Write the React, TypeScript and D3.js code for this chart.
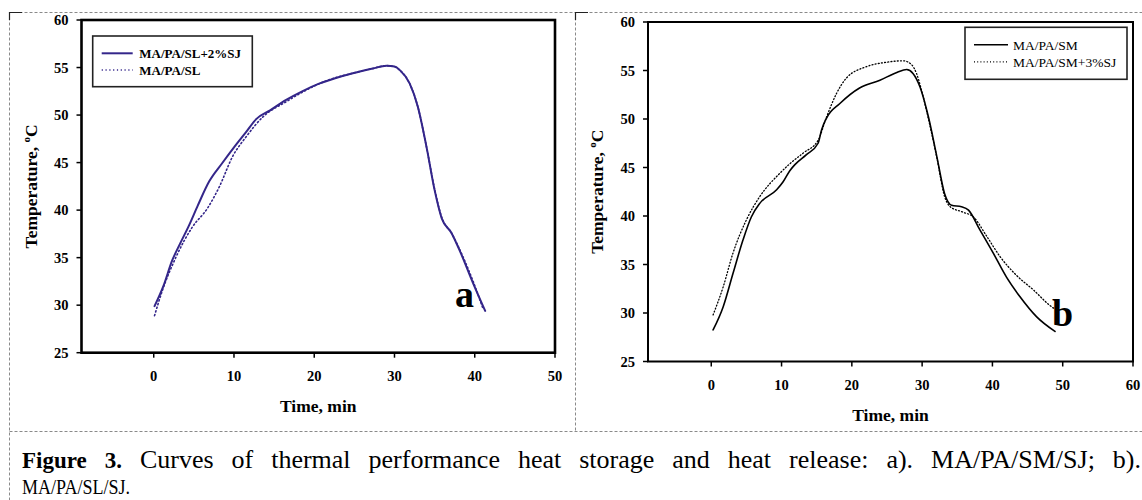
import * as d3 from 'd3';

// ---- data: [time (min), temperature (°C)] ----
const slWithSJ: [number, number][] = [
  [0.1, 29.9], [1.2, 32.0], [2.3, 34.7], [3.3, 36.5], [4.4, 38.4], [5.5, 40.5],
  [6.9, 43.0], [8.5, 44.9], [10.0, 46.6], [11.5, 48.2], [12.8, 49.6], [14.5, 50.5],
  [16.5, 51.6], [18.5, 52.5], [20.6, 53.3], [22.7, 53.9], [24.8, 54.4], [27.3, 54.9],
  [29.0, 55.2], [30.0, 55.1], [30.7, 54.7], [31.9, 53.3], [32.9, 50.9], [34.0, 46.6],
  [35.0, 42.1], [35.9, 39.1], [37.1, 37.6], [38.1, 35.8], [39.8, 32.3], [41.3, 29.4],
];
const slBase: [number, number][] = [
  [0.1, 28.9], [1.1, 31.6], [2.8, 35.1], [4.8, 38.2], [6.7, 40.2], [8.2, 42.5],
  [9.8, 45.6], [11.5, 47.7], [13.6, 49.8], [16.5, 51.4], [19.4, 52.8], [21.5, 53.6],
  [24.8, 54.4], [27.3, 54.9], [29.0, 55.2], [30.0, 55.1], [30.7, 54.7], [31.9, 53.3],
  [32.9, 50.9], [34.0, 46.6], [35.0, 42.2], [35.9, 39.2], [37.1, 37.6], [38.1, 35.9],
  [39.8, 32.5], [41.0, 29.7],
];
const smBase: [number, number][] = [
  [0.26, 28.25], [1.7, 30.65], [3.1, 34.1], [4.5, 37.5], [5.7, 39.9], [6.9, 41.3],
  [9.3, 42.7], [10.2, 43.5], [11.2, 44.7], [11.9, 45.3], [13.5, 46.3], [15.2, 47.5],
  [15.7, 48.9], [16.4, 50.1], [18.3, 51.6], [21.1, 53.2], [24.0, 54.0], [26.4, 54.8],
  [27.8, 55.1], [28.7, 54.7], [29.7, 53.3], [30.9, 50.2], [32.1, 46.1], [33.2, 42.3],
  [34.2, 41.1], [35.6, 40.95], [36.6, 40.6], [38.2, 38.6], [40.1, 36.2], [42.0, 33.7],
  [43.9, 31.7], [46.3, 29.6], [48.9, 28.1],
];
const smWithSJ: [number, number][] = [
  [0.26, 29.8], [1.7, 32.7], [3.1, 36.2], [5.0, 39.6], [6.9, 42.0], [9.75, 44.4],
  [11.2, 45.4], [13.1, 46.5], [15.2, 47.8], [16.4, 50.2], [17.8, 52.6], [19.2, 54.2],
  [22.1, 55.4], [24.9, 55.85], [27.3, 56.0], [28.5, 55.6], [29.2, 54.7], [29.9, 53.0],
  [30.9, 50.0], [32.1, 46.0], [33.2, 42.0], [34.0, 40.95], [35.8, 40.4], [37.3, 39.9],
  [39.2, 37.9], [41.1, 35.8], [43.4, 33.9], [45.8, 32.4], [48.4, 30.65], [48.7, 30.5],
];

const yTicks = [25, 30, 35, 40, 45, 50, 55, 60];
const xTicksA = [0, 10, 20, 30, 40, 50];
const xTicksB = [0, 10, 20, 30, 40, 50, 60];
const legendA = ['MA/PA/SL+2%SJ', 'MA/PA/SL'];
const legendB = ['MA/PA/SM', 'MA/PA/SM+3%SJ'];
const captionWords = 'Curves of thermal performance heat storage and heat release: a). MA/PA/SM/SJ; b).'.split(' ');

const SERIF = "'Liberation Serif', 'Times New Roman', serif";
const INDIGO = '#34268a';

const measure = (() => {
  const ctx = typeof document !== 'undefined' ? document.createElement('canvas').getContext('2d') : null;
  return (s: string, font: string) => {
    if (!ctx) return s.length * 9;
    ctx.font = font;
    return ctx.measureText(s).width;
  };
})();

function Panel(props: any) {
  const { x0, x1, y0, y1, xMax, xTicks, frame, series, legend, letter } = props;
  const x = d3.scaleLinear().domain([-9, xMax]).range([x0, x1]);
  const y = d3.scaleLinear().domain([25, 60]).range([y1, y0]);
  const line = d3.line<[number, number]>()
    .x(d => x(d[0]))
    .y(d => y(d[1]))
    .curve(d3.curveMonotoneX);

  return (
    <g>
      {series.map((s: any, i: number) => (
        <path key={i} d={line(s.data) || ''} fill="none" stroke={s.color}
          strokeWidth={s.width} strokeDasharray={s.dash} strokeLinecap="round" />
      ))}
      <rect x={x0} y={y0} width={x1 - x0} height={y1 - y0} fill="none" stroke="#000" strokeWidth={frame} />

      {yTicks.map(t => (
        <g key={t}>
          <line x1={x0 - 5} x2={x0} y1={y(t)} y2={y(t)} stroke="#000" strokeWidth={1.5} />
          <text x={x0 - 13} y={y(t)} dy="0.35em" textAnchor="end" fontSize={14.5} fontWeight="bold">{t}</text>
        </g>
      ))}
      {xTicks.map((t: number) => (
        <g key={t}>
          <line x1={x(t)} x2={x(t)} y1={y1} y2={y1 + 5} stroke="#000" strokeWidth={1.5} />
          <text x={x(t)} y={y1 + 28.5} textAnchor="middle" fontSize={14.5} fontWeight="bold">{t}</text>
        </g>
      ))}

      <text x={(x0 + x1) / 2} y={y1 + 59} textAnchor="middle" fontSize={17.5} fontWeight="bold">Time, min</text>
      <text transform={`translate(${props.yTitleX},${(y0 + y1) / 2}) rotate(-90)`} textAnchor="middle"
        fontSize={17.5} fontWeight="bold">
        Temperature, <tspan fontSize={11} dy={-7}>o</tspan><tspan dy={7}>C</tspan>
      </text>

      <rect x={legend.x} y={legend.y} width={legend.w} height={legend.h} fill="#fff" stroke="#222" strokeWidth={1.6} />
      {legend.labels.map((lab: string, i: number) => {
        const ly = legend.y + legend.rowY[i];
        const s = series[i];
        return (
          <g key={lab}>
            <line x1={legend.x + legend.lineX[0]} x2={legend.x + legend.lineX[1]} y1={ly} y2={ly}
              stroke={s.color} strokeWidth={s.width} strokeDasharray={s.dash} />
            <text x={legend.x + legend.textX} y={ly} dy="0.35em" fontSize={legend.fontSize}
              fontWeight={legend.bold ? 'bold' : 'normal'}>{lab}</text>
          </g>
        );
      })}

      <text x={letter.x} y={letter.y} fontSize={38} fontWeight="bold">{letter.t}</text>
    </g>
  );
}

function Caption() {
  const left = 22;
  const right = 1141;
  const boldFont = "bold 23px 'Liberation Serif'";
  const regFont = "26px 'Liberation Serif'";
  const words = [{ t: 'Figure', bold: true }, { t: '3.', bold: true }, ...captionWords.map(t => ({ t, bold: false }))];
  const widths = words.map(w => measure(w.t, w.bold ? boldFont : regFont));
  const total = widths.reduce((a, b) => a + b, 0);
  const gap = (right - left - total) / (words.length - 1);
  let cx = left;
  const placed = words.map((w, i) => {
    const p = { ...w, x: cx };
    cx += widths[i] + gap;
    return p;
  });
  return (
    <g>
      {placed.map((w, i) => (
        <text key={i} x={w.x} y={468} fontSize={w.bold ? 23 : 26} fontWeight={w.bold ? 'bold' : 'normal'}>{w.t}</text>
      ))}
      <text x={left} y={494} fontSize={22} textLength={108} lengthAdjust="spacingAndGlyphs">MA/PA/SL/SJ.</text>
    </g>
  );
}

export default function App() {
  const dash = { stroke: '#8a8a8a', strokeWidth: 1, strokeDasharray: '3,2' };
  return (
    <div style={{ position: 'absolute', left: 0, top: 0, width: 1142, height: 500, background: '#fff' }}>
      <svg width={1142} height={500} fontFamily={SERIF} style={{ display: 'block' }}>
        <rect width={1142} height={500} fill="#fff" />
        {/* panel borders */}
        <line x1={9.5} x2={1142} y1={12.5} y2={12.5} {...dash} />
        <line x1={9.5} x2={9.5} y1={12.5} y2={500} {...dash} />
        <line x1={575.5} x2={575.5} y1={12.5} y2={431.5} {...dash} />
        <line x1={9.5} x2={1142} y1={431.5} y2={431.5} {...dash} />
        <path d="M9.5,20V12.5H22" fill="none" stroke="#222" strokeWidth={1.2} />
        <path d="M575.5,20V12.5H588" fill="none" stroke="#222" strokeWidth={1.2} />

        <Panel
          x0={81.5} x1={555} y0={20} y1={352.7} xMax={50} xTicks={xTicksA} frame={2.6} yTitleX={37}
          series={[
            { data: slWithSJ, color: INDIGO, width: 2, dash: undefined },
            { data: slBase, color: INDIGO, width: 1.6, dash: '1.2,2.6' },
          ]}
          legend={{ x: 92.7, y: 36, w: 159.6, h: 50.7, rowY: [17.3, 34], lineX: [9, 40], textX: 46.6,
            labels: legendA, fontSize: 13, bold: true }}
          letter={{ t: 'a', x: 455, y: 307 }}
        />
        <Panel
          x0={648} x1={1133} y0={22} y1={361.5} xMax={60} xTicks={xTicksB} frame={2} yTitleX={603}
          series={[
            { data: smBase, color: '#000', width: 1.6, dash: undefined },
            { data: smWithSJ, color: '#000', width: 1.3, dash: '1,2.2' },
          ]}
          legend={{ x: 965, y: 27.3, w: 162, h: 52, rowY: [17.5, 34.5], lineX: [9, 43], textX: 48,
            labels: legendB, fontSize: 13.5, bold: false }}
          letter={{ t: 'b', x: 1052, y: 326 }}
        />
        <Caption />
      </svg>
    </div>
  );
}
